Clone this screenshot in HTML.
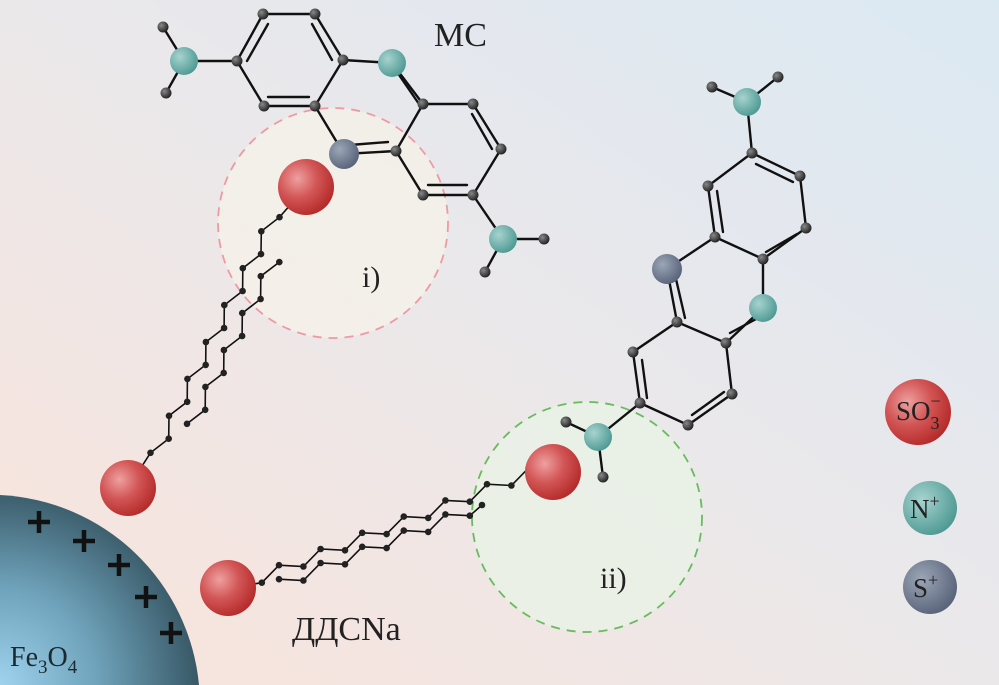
<!DOCTYPE html>
<html><head><meta charset="utf-8"><style>
html,body{margin:0;padding:0;width:999px;height:685px;overflow:hidden;}
svg{display:block;}
text{font-family:"Liberation Serif","DejaVu Serif",serif;fill:#222;}
</style></head><body>
<svg width="999" height="685" viewBox="0 0 999 685" xmlns="http://www.w3.org/2000/svg">
<defs>
<linearGradient id="bg" x1="0" y1="1" x2="1" y2="0">
<stop offset="0" stop-color="#fae3da"/>
<stop offset="0.5" stop-color="#ebe8ea"/>
<stop offset="1" stop-color="#dbe9f3"/>
</linearGradient>
<radialGradient id="red" cx="0.35" cy="0.35" r="0.7">
<stop offset="0" stop-color="#eea0a0"/><stop offset="0.5" stop-color="#d25555"/><stop offset="1" stop-color="#b42a2a"/>
</radialGradient>
<radialGradient id="teal" cx="0.35" cy="0.35" r="0.7">
<stop offset="0" stop-color="#a7d3cf"/><stop offset="1" stop-color="#4e9993"/>
</radialGradient>
<radialGradient id="grey" cx="0.35" cy="0.35" r="0.7">
<stop offset="0" stop-color="#9ba6b6"/><stop offset="1" stop-color="#58637a"/>
</radialGradient>
<radialGradient id="blk" cx="0.35" cy="0.35" r="0.7">
<stop offset="0" stop-color="#888"/><stop offset="1" stop-color="#1f1f1f"/>
</radialGradient>
<radialGradient id="fe" gradientUnits="userSpaceOnUse" cx="0" cy="685" r="215">
<stop offset="0" stop-color="#9fd3ee"/><stop offset="0.45" stop-color="#6fa3bb"/><stop offset="1" stop-color="#2f4c58"/>
</radialGradient>
</defs>
<rect width="999" height="685" fill="url(#bg)"/>

<circle cx="333" cy="223" r="115" fill="#f6f2e8" fill-opacity="0.7" stroke="#ee9aa4" stroke-width="1.8" stroke-dasharray="9,7"/>
<circle cx="587" cy="517" r="115" fill="#e8f3e6" fill-opacity="0.8" stroke="#68bb5e" stroke-width="1.8" stroke-dasharray="9,7"/>

<g stroke="#111" stroke-width="2.4" fill="none" stroke-linecap="round">
<path d="M184 61L163 27M184 61L166 93M184 61L237 61L263 14L315 14L343 60L315 106L264 106L237 61M343 60L392 63L423 104L473 104L501 149L473 195L423 195L396 151L423 104M396 151L344 154L315 106M473 195L503 239L544 239M503 239L485 272"/>
<path d="M247 61L268 24M312 24L332 60M309 97L268 97M397 72L419 104M472 114L492 149M467 185L428 185M388 142L350 145"/>
<path d="M747 102L712 87M747 102L778 77M747 102L752 153L708 186L715 237L763 259L806 228L800 176L752 153M715 237L667 269L677 322L726 343L763 308L763 259M677 322L633 352L640 403L688 425L732 394L726 343M640 403L598 437L566 422M598 437L603 477"/>
<path d="M717 191L723 232M756 164L793 182M797 234L766 252M676 279L685 318M730 333L758 318M642 360L647 398M692 415L724 392"/>
<polyline points="306,187 279.5,217.2 261.3,231.3 261,254.1 242.8,268.2 242.6,291 224.3,305.1 224.1,328 205.9,342 205.7,364.9 187.4,378.9 187.2,401.8 169,415.8 168.7,438.7 150.5,452.8 128,488" stroke-width="1.6"/>
<polyline points="279.3,262.1 260.8,276.2 260.6,299 242.3,313.1 242.1,336 223.9,350 223.7,372.9 205.4,386.9 205.2,409.8 187,423.8" stroke-width="1.6"/>
<polyline points="228,588 261.8,582.7 279,565.2 303.4,566.5 320.6,549 345,550.3 362.2,532.8 386.6,534.1 403.8,516.6 428.2,517.9 445.4,500.4 469.8,501.7 487,484.2 511.4,485.5 528.6,468 553,472" stroke-width="1.6"/>
<polyline points="279,579.2 303.4,580.5 320.6,563 345,564.3 362.2,546.8 386.6,548.1 403.8,530.6 428.2,531.9 445.4,514.4 469.8,515.7 482,505" stroke-width="1.6"/>
</g>
<g fill="#222">
<circle cx="279.5" cy="217.2" r="3.3"/><circle cx="261.3" cy="231.3" r="3.3"/><circle cx="261" cy="254.1" r="3.3"/><circle cx="242.8" cy="268.2" r="3.3"/><circle cx="242.6" cy="291" r="3.3"/><circle cx="224.3" cy="305.1" r="3.3"/><circle cx="224.1" cy="328" r="3.3"/><circle cx="205.9" cy="342" r="3.3"/><circle cx="205.7" cy="364.9" r="3.3"/><circle cx="187.4" cy="378.9" r="3.3"/><circle cx="187.2" cy="401.8" r="3.3"/><circle cx="169" cy="415.8" r="3.3"/><circle cx="168.7" cy="438.7" r="3.3"/><circle cx="150.5" cy="452.8" r="3.3"/>
<circle cx="279.3" cy="262.1" r="3.3"/><circle cx="260.8" cy="276.2" r="3.3"/><circle cx="260.6" cy="299" r="3.3"/><circle cx="242.3" cy="313.1" r="3.3"/><circle cx="242.1" cy="336" r="3.3"/><circle cx="223.9" cy="350" r="3.3"/><circle cx="223.7" cy="372.9" r="3.3"/><circle cx="205.4" cy="386.9" r="3.3"/><circle cx="205.2" cy="409.8" r="3.3"/><circle cx="187" cy="423.8" r="3.3"/>
<circle cx="261.8" cy="582.7" r="3.3"/><circle cx="279" cy="565.2" r="3.3"/><circle cx="303.4" cy="566.5" r="3.3"/><circle cx="320.6" cy="549" r="3.3"/><circle cx="345" cy="550.3" r="3.3"/><circle cx="362.2" cy="532.8" r="3.3"/><circle cx="386.6" cy="534.1" r="3.3"/><circle cx="403.8" cy="516.6" r="3.3"/><circle cx="428.2" cy="517.9" r="3.3"/><circle cx="445.4" cy="500.4" r="3.3"/><circle cx="469.8" cy="501.7" r="3.3"/><circle cx="487" cy="484.2" r="3.3"/><circle cx="511.4" cy="485.5" r="3.3"/><circle cx="528.6" cy="468" r="3.3"/>
<circle cx="279" cy="579.2" r="3.3"/><circle cx="303.4" cy="580.5" r="3.3"/><circle cx="320.6" cy="563" r="3.3"/><circle cx="345" cy="564.3" r="3.3"/><circle cx="362.2" cy="546.8" r="3.3"/><circle cx="386.6" cy="548.1" r="3.3"/><circle cx="403.8" cy="530.6" r="3.3"/><circle cx="428.2" cy="531.9" r="3.3"/><circle cx="445.4" cy="514.4" r="3.3"/><circle cx="469.8" cy="515.7" r="3.3"/><circle cx="482" cy="505" r="3.3"/>
</g>
<g fill="url(#blk)">
<circle cx="163" cy="27" r="5.5"/><circle cx="166" cy="93" r="5.5"/><circle cx="237" cy="61" r="5.5"/><circle cx="263" cy="14" r="5.5"/><circle cx="315" cy="14" r="5.5"/><circle cx="343" cy="60" r="5.5"/><circle cx="315" cy="106" r="5.5"/><circle cx="264" cy="106" r="5.5"/><circle cx="423" cy="104" r="5.5"/><circle cx="473" cy="104" r="5.5"/><circle cx="501" cy="149" r="5.5"/><circle cx="473" cy="195" r="5.5"/><circle cx="423" cy="195" r="5.5"/><circle cx="396" cy="151" r="5.5"/><circle cx="544" cy="239" r="5.5"/><circle cx="485" cy="272" r="5.5"/>
<circle cx="712" cy="87" r="5.5"/><circle cx="778" cy="77" r="5.5"/><circle cx="752" cy="153" r="5.5"/><circle cx="708" cy="186" r="5.5"/><circle cx="800" cy="176" r="5.5"/><circle cx="806" cy="228" r="5.5"/><circle cx="763" cy="259" r="5.5"/><circle cx="715" cy="237" r="5.5"/><circle cx="677" cy="322" r="5.5"/><circle cx="726" cy="343" r="5.5"/><circle cx="732" cy="394" r="5.5"/><circle cx="688" cy="425" r="5.5"/><circle cx="640" cy="403" r="5.5"/><circle cx="633" cy="352" r="5.5"/><circle cx="566" cy="422" r="5.5"/><circle cx="603" cy="477" r="5.5"/>
</g>
<circle cx="184" cy="61" r="14" fill="url(#teal)"/>
<circle cx="392" cy="63" r="14" fill="url(#teal)"/>
<circle cx="344" cy="154" r="15" fill="url(#grey)"/>
<circle cx="503" cy="239" r="14" fill="url(#teal)"/>
<circle cx="747" cy="102" r="14" fill="url(#teal)"/>
<circle cx="667" cy="269" r="15" fill="url(#grey)"/>
<circle cx="763" cy="308" r="14" fill="url(#teal)"/>
<circle cx="598" cy="437" r="14" fill="url(#teal)"/>

<circle cx="306" cy="187" r="28" fill="url(#red)"/>
<circle cx="553" cy="472" r="28" fill="url(#red)"/>
<circle cx="128" cy="488" r="28" fill="url(#red)"/>
<circle cx="228" cy="588" r="28" fill="url(#red)"/>

<path d="M0 495 A210 210 0 0 1 199 685 L0 685 Z" fill="url(#fe)"/>
<g stroke="#111" stroke-width="4.5">
<path d="M28 522h22M39 511v22"/>
<path d="M73 541h22M84 530v22"/>
<path d="M108 565h22M119 554v22"/>
<path d="M135 597h22M146 586v22"/>
<path d="M160 633h22M171 622v22"/>
</g>
<text x="10" y="666" font-size="28" style="fill:#1c2a30">Fe<tspan font-size="19" dy="7">3</tspan><tspan dy="-7">O</tspan><tspan font-size="19" dy="7">4</tspan></text>

<text x="434" y="46" font-size="34">MC</text>
<text x="362" y="287" font-size="30">i)</text>
<text x="600" y="588" font-size="30">ii)</text>
<text x="292" y="640" font-size="34">ДДСNa</text>

<circle cx="918" cy="412" r="33" fill="url(#red)"/>
<text x="896" y="420" font-size="27">SO<tspan font-size="18" dy="9">3</tspan><tspan font-size="18" dx="-9" dy="-22">−</tspan></text>
<circle cx="930" cy="508" r="27" fill="url(#teal)"/>
<text x="910" y="518" font-size="27">N<tspan font-size="18" dy="-11">+</tspan></text>
<circle cx="930" cy="587" r="27" fill="url(#grey)"/>
<text x="913" y="597" font-size="27">S<tspan font-size="18" dy="-11">+</tspan></text>
</svg>
</body></html>
